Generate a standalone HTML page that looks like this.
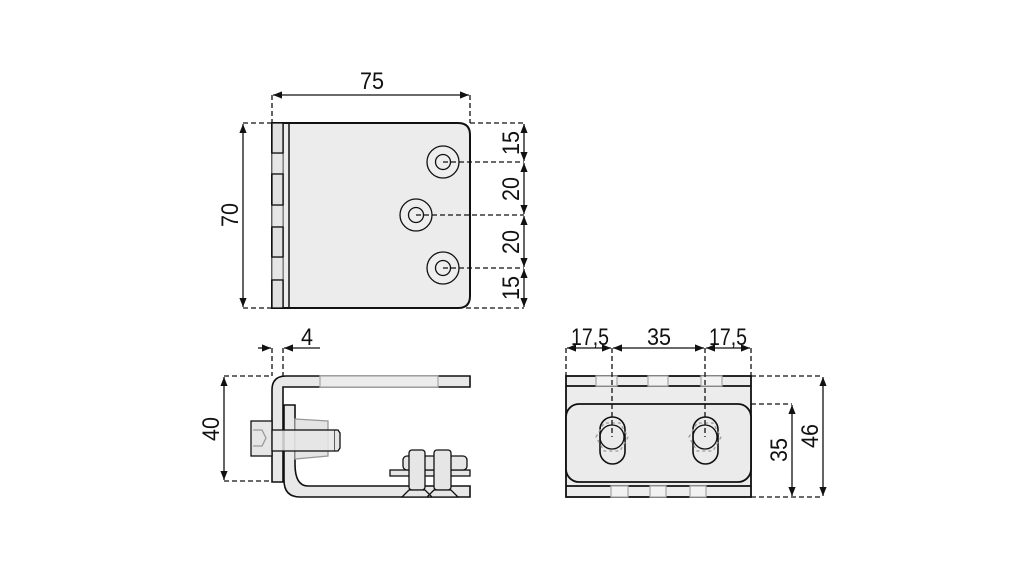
<!DOCTYPE html>
<html><head><meta charset="utf-8"><style>
html,body{margin:0;padding:0;background:#fff}
svg{display:block}
text{font-family:"Liberation Sans",sans-serif;font-size:24px;fill:#111}
</style></head><body>
<svg width="1021" height="568" viewBox="0 0 1021 568" xmlns="http://www.w3.org/2000/svg">
<defs>
<marker id="a" viewBox="0 0 10 10" refX="10" refY="5" markerWidth="7" markerHeight="7" orient="auto-start-reverse"><path d="M0,1 L10,5 L0,9 z" fill="#111"/></marker>
</defs>
<g stroke="#111" stroke-width="1.3" fill="none">
<!-- TOP VIEW -->
<path d="M272,123 H458 Q470,123 470,135 V296 Q470,308 458,308 H272 Z" fill="#ececec" stroke-width="2"/>
<line x1="283" y1="123" x2="283" y2="308" stroke-width="1.5"/>
<line x1="289" y1="123" x2="289" y2="308" stroke-width="1.5"/>
<g fill="#e6e6e6" stroke="#888">
<rect x="272" y="153" width="11" height="21"/>
<rect x="272" y="205" width="11" height="22"/>
<rect x="272" y="257" width="11" height="23"/>
</g>
<g fill="#e0e0e0">
<rect x="272" y="123" width="11" height="30"/>
<rect x="272" y="174" width="11" height="31"/>
<rect x="272" y="227" width="11" height="30"/>
<rect x="272" y="280" width="11" height="28"/>
</g>
<g fill="#eeeeee">
<circle cx="443" cy="162" r="16"/><circle cx="443" cy="162" r="7.5"/>
<circle cx="416" cy="215" r="16"/><circle cx="416" cy="215" r="7.5"/>
<circle cx="443" cy="268" r="16"/><circle cx="443" cy="268" r="7.5"/>
</g>
<g stroke-dasharray="5,3">
<line x1="443" y1="162" x2="524" y2="162"/>
<line x1="416" y1="215" x2="524" y2="215"/>
<line x1="443" y1="268" x2="524" y2="268"/>
<line x1="470" y1="123" x2="524" y2="123"/>
<line x1="458" y1="308" x2="524" y2="308"/>
<line x1="243" y1="123" x2="272" y2="123"/>
<line x1="243" y1="308" x2="272" y2="308"/>
<line x1="272" y1="95" x2="272" y2="123"/>
<line x1="470" y1="95" x2="470" y2="123"/>
</g>
<line x1="273" y1="95" x2="469" y2="95" marker-start="url(#a)" marker-end="url(#a)"/>
<line x1="243" y1="124" x2="243" y2="307" marker-start="url(#a)" marker-end="url(#a)"/>
<line x1="524" y1="124" x2="524" y2="161" marker-start="url(#a)" marker-end="url(#a)"/>
<line x1="524" y1="163" x2="524" y2="214" marker-start="url(#a)" marker-end="url(#a)"/>
<line x1="524" y1="216" x2="524" y2="267" marker-start="url(#a)" marker-end="url(#a)"/>
<line x1="524" y1="269" x2="524" y2="307" marker-start="url(#a)" marker-end="url(#a)"/>

<!-- SIDE VIEW -->
<path d="M283,387 V482 H272 V390 Q272,376 286,376 H470 V387 Z" fill="#e8e8e8" stroke-width="1.6"/>
<rect x="320" y="376" width="118" height="11" fill="#ececec" stroke="#aaa"/>
<path d="M284,405 H295 V464 Q295,486 308,486 H470 V497 H300 Q284,497 284,480 Z" fill="#e8e8e8" stroke-width="1.6"/>
<path d="M295,419 L328,421 L328,456 L295,459 Z" fill="#e4e4e4" stroke="#999"/>
<rect x="251" y="421" width="21" height="35" fill="#e6e6e6"/>
<path d="M253,430 H262 L266,438 L262,446 H253" stroke="#999"/>
<rect x="272" y="430" width="63" height="21" fill="#e6e6e6" fill-opacity="0.85"/>
<path d="M335,430 H338 L340,433 V448 L338,451 H335" fill="#e6e6e6"/>
<rect x="390" y="470" width="80" height="6" fill="#e6e6e6"/>
<rect x="403" y="456" width="64" height="14" rx="4" fill="#e6e6e6"/>
<rect x="409" y="450" width="16" height="40" rx="3" fill="#e6e6e6"/>
<rect x="434" y="450" width="17" height="40" rx="3" fill="#e6e6e6"/>
<path d="M409,490 L402,497 H432 L425,490 Z M434,490 L427,497 H458 L451,490 Z" fill="#e6e6e6"/>
<g stroke-dasharray="5,3">
<line x1="224" y1="376" x2="272" y2="376"/>
<line x1="224" y1="481" x2="272" y2="481"/>
<line x1="272" y1="348" x2="272" y2="376"/>
<line x1="283" y1="348" x2="283" y2="376"/>
</g>
<line x1="224" y1="377" x2="224" y2="480" marker-start="url(#a)" marker-end="url(#a)"/>
<line x1="258" y1="348" x2="271" y2="348" marker-end="url(#a)"/>
<line x1="320" y1="348" x2="284" y2="348" marker-end="url(#a)"/>

<!-- FRONT VIEW -->
<rect x="566" y="376" width="185" height="121" fill="#ececec" stroke-width="1.8"/>
<line x1="566" y1="386" x2="751" y2="386" stroke-width="1.8"/>
<line x1="566" y1="486" x2="751" y2="486" stroke-width="1.8"/>
<g stroke="#aaa" fill="#f2f2f2">
<rect x="596" y="376" width="21" height="10"/><rect x="648" y="376" width="20" height="10"/><rect x="701" y="376" width="21" height="10"/>
<rect x="611" y="486" width="17" height="11"/><rect x="650" y="486" width="16" height="11"/><rect x="690" y="486" width="16" height="11"/>
</g>
<rect x="566" y="404" width="185" height="78" rx="13" fill="#ebebeb" stroke-width="1.8"/>
<rect x="600" y="417" width="25" height="47" rx="12.5" fill="#ebebeb" stroke-width="1.6"/>
<rect x="693" y="417" width="25" height="47" rx="12.5" fill="#ebebeb" stroke-width="1.6"/>
<circle cx="612" cy="437" r="12"/><circle cx="705" cy="437" r="12"/>
<g stroke="#999" stroke-dasharray="3,3">
<path d="M596,437 L604,423 H620 L628,437 L620,451 H604 Z"/>
<path d="M689,437 L697,423 H713 L721,437 L713,451 H697 Z"/>
</g>
<g stroke-dasharray="5,3">
<line x1="566" y1="348" x2="566" y2="376"/>
<line x1="751" y1="348" x2="751" y2="376"/>
<line x1="612" y1="348" x2="612" y2="437"/>
<line x1="705" y1="348" x2="705" y2="437"/>
<line x1="751" y1="376" x2="823" y2="376"/>
<line x1="751" y1="404" x2="792" y2="404"/>
<line x1="751" y1="497" x2="823" y2="497"/>
</g>
<line x1="567" y1="348" x2="611" y2="348" marker-start="url(#a)" marker-end="url(#a)"/>
<line x1="613" y1="348" x2="704" y2="348" marker-start="url(#a)" marker-end="url(#a)"/>
<line x1="706" y1="348" x2="750" y2="348" marker-start="url(#a)" marker-end="url(#a)"/>
<line x1="792" y1="405" x2="792" y2="496" marker-start="url(#a)" marker-end="url(#a)"/>
<line x1="823" y1="377" x2="823" y2="496" marker-start="url(#a)" marker-end="url(#a)"/>
</g>
<g>
<text x="372" y="89" text-anchor="middle" textLength="24" lengthAdjust="spacingAndGlyphs">75</text>
<text transform="translate(238,215) rotate(-90)" text-anchor="middle" textLength="24" lengthAdjust="spacingAndGlyphs">70</text>
<text transform="translate(519,143) rotate(-90)" text-anchor="middle" textLength="24" lengthAdjust="spacingAndGlyphs">15</text>
<text transform="translate(519,189) rotate(-90)" text-anchor="middle" textLength="24" lengthAdjust="spacingAndGlyphs">20</text>
<text transform="translate(519,242) rotate(-90)" text-anchor="middle" textLength="24" lengthAdjust="spacingAndGlyphs">20</text>
<text transform="translate(519,288) rotate(-90)" text-anchor="middle" textLength="24" lengthAdjust="spacingAndGlyphs">15</text>
<text x="307" y="345" text-anchor="middle" textLength="12" lengthAdjust="spacingAndGlyphs">4</text>
<text transform="translate(219,429) rotate(-90)" text-anchor="middle" textLength="24" lengthAdjust="spacingAndGlyphs">40</text>
<text x="590" y="345" text-anchor="middle" textLength="38" lengthAdjust="spacingAndGlyphs">17,5</text>
<text x="659" y="345" text-anchor="middle" textLength="24" lengthAdjust="spacingAndGlyphs">35</text>
<text x="728" y="345" text-anchor="middle" textLength="38" lengthAdjust="spacingAndGlyphs">17,5</text>
<text transform="translate(787,450) rotate(-90)" text-anchor="middle" textLength="24" lengthAdjust="spacingAndGlyphs">35</text>
<text transform="translate(818,436) rotate(-90)" text-anchor="middle" textLength="24" lengthAdjust="spacingAndGlyphs">46</text>
</g>
</svg>
</body></html>
